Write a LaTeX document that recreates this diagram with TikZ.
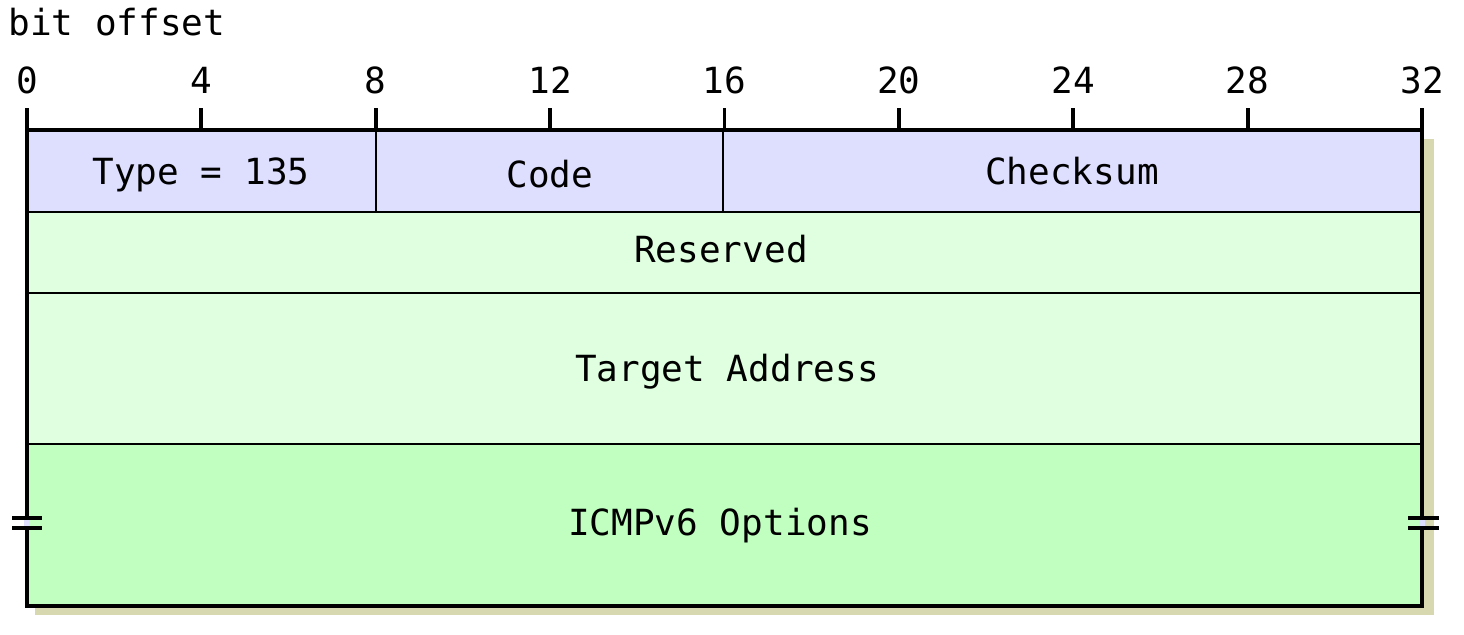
\documentclass[tikz,border=0pt]{standalone}
\usepackage{fontspec}
\setmonofont{DejaVu Sans Mono}

\definecolor{hdrblue}{RGB}{222,222,255}
\definecolor{palegreen}{RGB}{224,255,224}
\definecolor{optgreen}{RGB}{192,255,192}
\definecolor{shadowtan}{RGB}{216,216,176}

\tikzset{
    field/.style={font=\fontsize{18}{22}\selectfont\ttfamily, anchor=base, inner sep=0pt},
    thick border/.style={line width=1.9pt},
    thin border/.style={line width=1pt}
}

\begin{document}
\begin{tikzpicture}[x=0.5pt,y=-0.5pt]
            \useasboundingbox (0,0) rectangle (1464,634);

            \fill[shadowtan] (35,139) rectangle (1434,615);
            \fill[hdrblue] (27,130) rectangle (1422,212);
            \fill[palegreen] (27,212) rectangle (1422,444);
            \fill[optgreen] (27,444) rectangle (1422,606);
            \fill[hdrblue] (24,518) rectangle (30,528);
            \fill[hdrblue] (1419,518) rectangle (1425,528);

            \draw[thin border] (376,130) -- (376,212);
            \draw[thin border] (723,130) -- (723,212);
            \draw[thin border] (27,212) -- (1422,212);
            \draw[thin border] (27,293) -- (1422,293);
            \draw[thin border] (27,444) -- (1422,444);

            \draw[thick border] (27,518) -- (27,130) -- (1422,130) -- (1422,518);
            \draw[thick border] (27,528) -- (27,606) -- (1422,606) -- (1422,528);

            \draw[thick border] (12,518) -- (42,518) (12,528) -- (42,528);
            \draw[thick border] (1408,518) -- (1439,518) (1408,528) -- (1439,528);

            \node[field, anchor=base west] (offset) at (8,35) {bit offset};
            \foreach \b in {0,4,...,32}
                \draw[thick border] ({27+\b*43.594},108) -- ({27+\b*43.594},130)
                    node[field, pos=0, yshift=7.5pt, anchor=base] (bit\b) {\b};

            \node[field] (type) at (201,184) {Type = 135};
            \node[field] (code) at (550,187) {Code};
            \node[field] (checksum) at (1072,184) {Checksum};
            \node[field] (reserved) at (721,262) {Reserved};
            \node[field] (target) at (727,381) {Target Address};
            \node[field] (options) at (720,535) {ICMPv6 Options};
        \end{tikzpicture}
\end{document}
